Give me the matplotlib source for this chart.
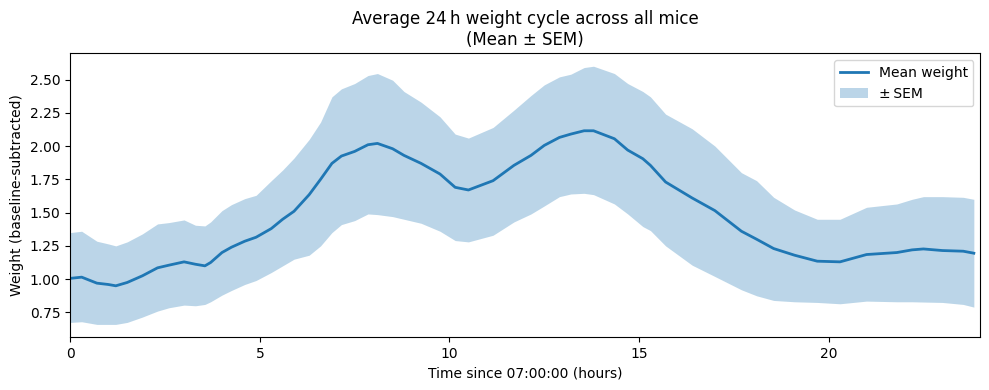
import matplotlib
matplotlib.use("Agg")
import matplotlib.pyplot as plt
import numpy as np

# hours since 07:00
hours = [0, 0.3, 0.7, 1.0, 1.2, 1.5, 1.9, 2.3, 2.6, 3.0, 3.3, 3.55, 3.7, 4.0,
         4.25, 4.6, 4.9, 5.3, 5.6, 5.9, 6.3, 6.6, 6.9, 7.15, 7.5, 7.85, 8.1,
         8.5, 8.8, 9.25, 9.75, 10.15, 10.5, 11.15, 11.7, 12.15, 12.5, 12.9,
         13.2, 13.55, 13.8, 14.35, 14.7, 15.1, 15.3, 15.7, 16.4, 17.0, 17.7,
         18.1, 18.55, 19.1, 19.7, 20.3, 21.0, 21.8, 22.2, 22.5, 23.0, 23.55,
         23.83]

mean_weight = [1.006, 1.015, 0.97, 0.96, 0.95, 0.975, 1.025, 1.085, 1.105,
               1.13, 1.112, 1.10, 1.125, 1.20, 1.24, 1.285, 1.315, 1.38,
               1.45, 1.51, 1.635, 1.75, 1.87, 1.925, 1.96, 2.01, 2.02, 1.98,
               1.93, 1.87, 1.79, 1.69, 1.67, 1.74, 1.855, 1.93, 2.005, 2.065,
               2.09, 2.115, 2.115, 2.055, 1.97, 1.905, 1.855, 1.73, 1.61,
               1.515, 1.36, 1.30, 1.23, 1.18, 1.135, 1.13, 1.185, 1.20, 1.22,
               1.227, 1.215, 1.21, 1.195]

sem_upper = [1.35, 1.36, 1.285, 1.265, 1.25, 1.28, 1.34, 1.415, 1.425, 1.445,
             1.405, 1.40, 1.43, 1.515, 1.56, 1.605, 1.63, 1.74, 1.82, 1.91,
             2.05, 2.18, 2.37, 2.43, 2.47, 2.53, 2.545, 2.495, 2.41, 2.33,
             2.22, 2.09, 2.06, 2.14, 2.27, 2.38, 2.46, 2.52, 2.54, 2.59, 2.60,
             2.545, 2.47, 2.41, 2.37, 2.24, 2.13, 2.00, 1.80, 1.74, 1.615,
             1.52, 1.45, 1.45, 1.54, 1.565, 1.60, 1.62, 1.62, 1.615, 1.60]

sem_lower = [0.675, 0.68, 0.66, 0.66, 0.66, 0.675, 0.715, 0.76, 0.785, 0.805,
             0.80, 0.81, 0.83, 0.88, 0.915, 0.96, 0.99, 1.05, 1.10, 1.15,
             1.18, 1.25, 1.35, 1.41, 1.44, 1.49, 1.485, 1.47, 1.45, 1.42,
             1.36, 1.29, 1.28, 1.33, 1.43, 1.49, 1.55, 1.62, 1.64, 1.645,
             1.635, 1.565, 1.49, 1.395, 1.365, 1.25, 1.105, 1.02, 0.92, 0.875,
             0.84, 0.83, 0.825, 0.815, 0.835, 0.83, 0.83, 0.828, 0.825, 0.81,
             0.79]

fig, ax = plt.subplots(figsize=(9.89, 3.9), dpi=100)

ax.plot(hours, mean_weight, color="C0", lw=2, label="Mean weight")
ax.fill_between(hours, sem_lower, sem_upper, color="C0", alpha=0.3,
                linewidth=0, label="\u00b1\u2009SEM")

ax.set_xlim(0, 24)
ax.set_xlabel("Time since 07:00:00 (hours)")
ax.set_ylabel("Weight (baseline-subtracted)")
ax.set_title("Average 24\u2009h weight cycle across all mice\n(Mean \u00b1 SEM)")
ax.legend(loc="upper right")

fig.subplots_adjust(left=0.0711, right=0.9912, top=0.8633, bottom=0.1351)
plt.savefig("out.png", dpi=100)
